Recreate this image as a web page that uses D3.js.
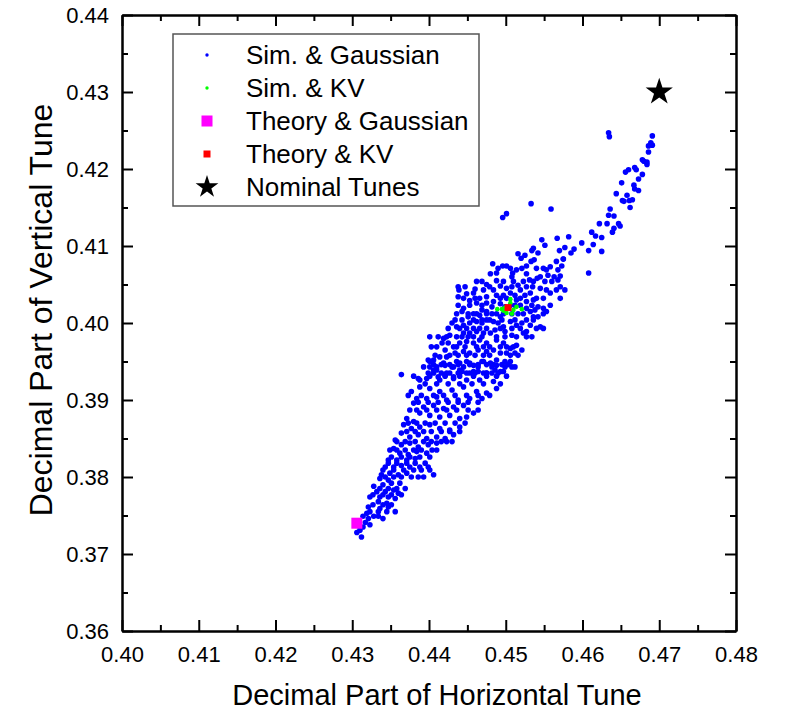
<!DOCTYPE html>
<html>
<head>
<meta charset="utf-8">
<script src="https://cdn.jsdelivr.net/npm/d3@7/dist/d3.min.js"></script>
<style>
  body { margin: 0; background: #fff; }
  text { font-family: "Liberation Sans", Arial, sans-serif; fill: #000; }
</style>
</head>
<body>
<div id="chart"></div>
<script>
//----------------------------------------------------------------
// data read off the picture : [horizontal tune, vertical tune]
//----------------------------------------------------------------
var simGaussian = [
  // tail towards the nominal tunes
  [0.4634,0.4247],[0.4635,0.4242],[0.4691,0.4243],[0.4689,0.4234],[0.4686,0.4230],[0.4691,0.4231],
  [0.4686,0.4222],[0.4678,0.4212],[0.4680,0.4210],[0.4684,0.4209],[0.4684,0.4206],[0.4668,0.4202],
  [0.4670,0.4199],[0.4660,0.4199],[0.4656,0.4196],[0.4678,0.4193],[0.4673,0.4187],[0.4651,0.4182],
  [0.4667,0.4179],[0.4668,0.4174],[0.4673,0.4172],[0.4644,0.4168],[0.4658,0.4166],[0.4652,0.4159],
  [0.4654,0.4158],[0.4661,0.4159],[0.4665,0.4160],[0.4662,0.4150],[0.4636,0.4148],[0.4634,0.4140],
  [0.4641,0.4139],[0.4622,0.4129],[0.4632,0.4129],[0.4647,0.4129],[0.4649,0.4126],[0.4641,0.4123],
  [0.4639,0.4118],[0.4612,0.4118],[0.4617,0.4113],[0.4625,0.4111],[0.4582,0.4112],[0.4599,0.4104],
  [0.4614,0.4102],[0.4577,0.4098],[0.4589,0.4096],[0.4585,0.4091],[0.4608,0.4094],[0.4625,0.4093],
  [0.4575,0.4083],[0.4573,0.4074],[0.4608,0.4065],
  // upper part of the cloud
  [0.4533,0.4155],[0.4559,0.4148],[0.4501,0.4142],[0.4496,0.4137],[0.4567,0.4110],[0.4547,0.4108],
  [0.4551,0.4101],[0.4570,0.4094],[0.4536,0.4097],[0.4534,0.4094],[0.4542,0.4091],[0.4516,0.4090],
  [0.4525,0.4088],[0.4520,0.4084],[0.4483,0.4077],[0.4496,0.4074],[0.4501,0.4074],[0.4537,0.4082],
  [0.4533,0.4080],[0.4527,0.4074],[0.4575,0.4083],[0.4566,0.4080],[0.4558,0.4073],[0.4568,0.4069],
  [0.4553,0.4069],[0.4549,0.4071],[0.4571,0.4061],[0.4563,0.4060],[0.4555,0.4062],[0.4545,0.4060],
  [0.4488,0.4065],[0.4480,0.4064],[0.4514,0.4069],[0.4509,0.4065],[0.4508,0.4060],[0.4527,0.4064],
  [0.4531,0.4056],[0.4541,0.4058],[0.4568,0.4056],[0.4462,0.4054],[0.4475,0.4050],[0.4488,0.4055],
  [0.4493,0.4048],[0.4501,0.4045],[0.4484,0.4043],[0.4471,0.4043],[0.4460,0.4044],[0.4438,0.4047],
  [0.4439,0.4043],[0.4449,0.4038],[0.4438,0.4034],[0.4516,0.4049],[0.4519,0.4043],[0.4535,0.4047],
  [0.4545,0.4045],[0.4553,0.4043],[0.4558,0.4039],[0.4577,0.4043],[0.4566,0.4043],[0.4532,0.4039],
  [0.4525,0.4036],[0.4512,0.4036],[0.4506,0.4039],[0.4497,0.4036],[0.4488,0.4036],[0.4475,0.4034],
  [0.4466,0.4032],[0.4458,0.4039],[0.4453,0.4029],[0.4445,0.4019],[0.4443,0.4015],[0.4462,0.4026],
  [0.4475,0.4026],[0.4484,0.4028],[0.4493,0.4025],[0.4499,0.4021],[0.4514,0.4030],[0.4519,0.4023],
  [0.4527,0.4028],[0.4536,0.4030],[0.4527,0.4019],[0.4532,0.4015],[0.4538,0.4017],[0.4542,0.4021],
  [0.4549,0.4019],[0.4553,0.4015],[0.4536,0.4008],[0.4542,0.4008],[0.4469,0.4017],[0.4475,0.4015],
  [0.4482,0.4021],[0.4466,0.4010],[0.4458,0.4012],[0.4451,0.4008],[0.4488,0.4012],[0.4493,0.4008],
  [0.4490,0.4071],[0.4506,0.4071],[0.4521,0.4071],[0.4540,0.4071],
  [0.4469,0.4054],[0.4497,0.4054],[0.4510,0.4054],[0.4523,0.4054],[0.4536,0.4054],[0.4551,0.4054],[0.4560,0.4054],
  [0.4447,0.4047],[0.4479,0.4047],[0.4508,0.4047],[0.4527,0.4047],[0.4571,0.4047],
  [0.4445,0.4032],[0.4460,0.4032],[0.4493,0.4032],[0.4501,0.4032],[0.4519,0.4032],[0.4540,0.4032],[0.4549,0.4032],[0.4571,0.4032],
  [0.4438,0.4023],[0.4453,0.4023],[0.4469,0.4023],[0.4506,0.4023],[0.4512,0.4023],[0.4534,0.4023],[0.4558,0.4023],
  [0.4436,0.4012],[0.4451,0.4012],[0.4462,0.4012],[0.4475,0.4012],[0.4482,0.4012],[0.4497,0.4012],[0.4508,0.4012],
  [0.4516,0.4012],[0.4523,0.4012],[0.4549,0.4012],
  // middle of the cloud
  [0.4434,0.4004],[0.4430,0.4000],[0.4436,0.3995],[0.4445,0.3997],[0.4453,0.4000],[0.4462,0.4002],
  [0.4469,0.4000],[0.4475,0.4004],[0.4484,0.4002],[0.4490,0.4000],[0.4497,0.3995],[0.4506,0.4002],
  [0.4514,0.3997],[0.4521,0.4000],[0.4532,0.3997],[0.4540,0.3993],[0.4545,0.3995],[0.4527,0.3989],
  [0.4534,0.3982],[0.4523,0.3987],[0.4508,0.3984],[0.4499,0.3989],[0.4486,0.3991],[0.4480,0.3987],
  [0.4471,0.3987],[0.4462,0.3989],[0.4453,0.3987],[0.4445,0.3987],[0.4436,0.3982],[0.4427,0.3984],
  [0.4419,0.3980],[0.4401,0.3982],[0.4425,0.3974],[0.4417,0.3974],[0.4410,0.3969],[0.4421,0.3965],
  [0.4432,0.3969],[0.4440,0.3974],[0.4449,0.3976],[0.4458,0.3974],[0.4466,0.3978],[0.4475,0.3974],
  [0.4488,0.3978],[0.4497,0.3974],[0.4506,0.3967],[0.4514,0.3971],[0.4521,0.3965],[0.4512,0.3961],
  [0.4501,0.3961],[0.4493,0.3961],[0.4484,0.3965],[0.4475,0.3963],[0.4464,0.3965],[0.4453,0.3961],
  [0.4445,0.3963],[0.4434,0.3961],[0.4423,0.3956],[0.4414,0.3956],[0.4406,0.3952],[0.4399,0.3952],
  [0.4401,0.3943],[0.4410,0.3939],[0.4421,0.3945],[0.4432,0.3943],[0.4440,0.3948],[0.4449,0.3950],
  [0.4458,0.3945],[0.4469,0.3950],[0.4480,0.3948],[0.4488,0.3952],[0.4499,0.3950],[0.4508,0.3943],
  [0.4497,0.3937],[0.4486,0.3939],[0.4475,0.3935],[0.4464,0.3937],[0.4453,0.3935],[0.4443,0.3937],
  [0.4432,0.3930],[0.4421,0.3932],[0.4412,0.3930],[0.4364,0.3933],[0.4386,0.3928],[0.4399,0.3935],
  [0.4443,0.4004],[0.4458,0.4004],[0.4469,0.4004],[0.4479,0.4004],[0.4495,0.4004],[0.4512,0.4004],[0.4527,0.4004],[0.4536,0.4004],
  [0.4425,0.3993],[0.4440,0.3993],[0.4449,0.3993],[0.4458,0.3993],[0.4466,0.3993],[0.4475,0.3993],[0.4493,0.3993],
  [0.4508,0.3993],[0.4519,0.3993],[0.4549,0.3993],
  [0.4412,0.3982],[0.4423,0.3982],[0.4443,0.3982],[0.4451,0.3982],[0.4458,0.3982],[0.4469,0.3982],[0.4488,0.3982],
  [0.4499,0.3982],[0.4514,0.3982],[0.4527,0.3982],
  [0.4403,0.3969],[0.4436,0.3969],[0.4447,0.3969],[0.4462,0.3969],[0.4471,0.3969],[0.4479,0.3969],[0.4493,0.3969],
  [0.4501,0.3969],[0.4510,0.3969],
  [0.4408,0.3958],[0.4427,0.3958],[0.4438,0.3958],[0.4449,0.3958],[0.4460,0.3958],[0.4471,0.3958],[0.4479,0.3958],
  [0.4506,0.3958],[0.4516,0.3958],
  [0.4406,0.3946],[0.4416,0.3946],[0.4427,0.3946],[0.4438,0.3946],[0.4453,0.3946],[0.4464,0.3946],[0.4475,0.3946],
  [0.4484,0.3946],[0.4495,0.3946],[0.4503,0.3946],
  [0.4406,0.3935],[0.4416,0.3935],[0.4427,0.3935],[0.4438,0.3935],[0.4449,0.3935],[0.4460,0.3935],[0.4471,0.3935],
  [0.4482,0.3935],[0.4490,0.3935],
  // lower part of the cloud
  [0.4401,0.3950],[0.4419,0.3948],[0.4436,0.3950],[0.4453,0.3948],[0.4471,0.3950],[0.4488,0.3945],
  [0.4506,0.3950],[0.4406,0.3939],[0.4423,0.3935],[0.4440,0.3939],[0.4458,0.3937],[0.4475,0.3935],
  [0.4493,0.3937],[0.4397,0.3928],[0.4414,0.3926],[0.4432,0.3928],[0.4449,0.3926],[0.4466,0.3926],
  [0.4484,0.3924],[0.4388,0.3926],[0.4377,0.3911],[0.4388,0.3917],[0.4401,0.3915],[0.4414,0.3911],
  [0.4430,0.3913],[0.4445,0.3917],[0.4462,0.3911],[0.4475,0.3909],[0.4488,0.3915],[0.4384,0.3902],
  [0.4397,0.3902],[0.4410,0.3904],[0.4423,0.3900],[0.4438,0.3900],[0.4453,0.3902],[0.4469,0.3902],
  [0.4380,0.3896],[0.4393,0.3891],[0.4406,0.3893],[0.4419,0.3889],[0.4432,0.3891],[0.4445,0.3893],
  [0.4458,0.3883],[0.4388,0.3883],[0.4401,0.3880],[0.4414,0.3878],[0.4427,0.3880],[0.4440,0.3876],
  [0.4449,0.3878],[0.4371,0.3876],[0.4380,0.3872],[0.4367,0.3868],[0.4377,0.3863],[0.4388,0.3865],
  [0.4401,0.3868],[0.4414,0.3863],[0.4427,0.3861],[0.4440,0.3865],[0.4364,0.3857],[0.4375,0.3852],
  [0.4386,0.3855],[0.4397,0.3850],[0.4410,0.3852],[0.4421,0.3850],[0.4432,0.3855],[0.4356,0.3848],
  [0.4364,0.3842],[0.4375,0.3844],[0.4386,0.3839],[0.4399,0.3842],[0.4410,0.3844],[0.4423,0.3846],
  [0.4354,0.3837],[0.4362,0.3831],[0.4373,0.3829],[0.4384,0.3833],[0.4397,0.3831],[0.4404,0.3835],
  [0.4347,0.3822],[0.4358,0.3822],[0.4371,0.3822],[0.4382,0.3824],[0.4343,0.3813],[0.4354,0.3813],
  [0.4364,0.3815],[0.4375,0.3813],[0.4388,0.3813],[0.4399,0.3813],[0.4338,0.3803],[0.4349,0.3805],
  [0.4360,0.3803],[0.4371,0.3805],[0.4393,0.3800],[0.4406,0.3803],[0.4336,0.3798],[0.4347,0.3796],
  [0.4328,0.3788],[0.4340,0.3790],[0.4351,0.3792],[0.4362,0.3792],[0.4332,0.3781],[0.4343,0.3781],
  [0.4354,0.3783],[0.4360,0.3779],[0.4323,0.3774],[0.4336,0.3774],[0.4347,0.3774],[0.4356,0.3772],
  [0.4334,0.3768],[0.4345,0.3766],[0.4321,0.3761],[0.4336,0.3759],[0.4347,0.3761],[0.4356,0.3755],
  [0.4319,0.3753],[0.4328,0.3749],[0.4314,0.3749],[0.4334,0.3749],[0.4317,0.3741],[0.4314,0.3735],
  [0.4310,0.3731],[0.4306,0.3728],[0.4312,0.3722],
  [0.4393,0.3943],[0.4410,0.3943],[0.4430,0.3943],[0.4445,0.3943],[0.4464,0.3943],[0.4482,0.3943],[0.4499,0.3943],[0.4512,0.3943],
  [0.4380,0.3931],[0.4401,0.3931],[0.4421,0.3931],[0.4440,0.3931],[0.4458,0.3931],[0.4475,0.3931],[0.4488,0.3931],[0.4501,0.3931],
  [0.4395,0.3921],[0.4410,0.3921],[0.4425,0.3921],[0.4440,0.3921],[0.4456,0.3921],[0.4471,0.3921],[0.4493,0.3921],
  [0.4373,0.3906],[0.4390,0.3906],[0.4406,0.3906],[0.4419,0.3906],[0.4434,0.3906],[0.4449,0.3906],[0.4464,0.3906],[0.4479,0.3906],
  [0.4386,0.3897],[0.4399,0.3897],[0.4412,0.3897],[0.4425,0.3897],[0.4438,0.3897],[0.4451,0.3897],[0.4464,0.3897],
  [0.4375,0.3887],[0.4384,0.3887],[0.4397,0.3887],[0.4410,0.3887],[0.4423,0.3887],[0.4436,0.3887],[0.4451,0.3887],[0.4464,0.3887],
  [0.4373,0.3870],[0.4384,0.3870],[0.4395,0.3870],[0.4408,0.3870],[0.4421,0.3870],[0.4434,0.3870],[0.4447,0.3870],
  [0.4371,0.3859],[0.4382,0.3859],[0.4393,0.3859],[0.4403,0.3859],[0.4416,0.3859],[0.4427,0.3859],[0.4440,0.3859],
  [0.4358,0.3846],[0.4369,0.3846],[0.4382,0.3846],[0.4393,0.3846],[0.4403,0.3846],[0.4416,0.3846],[0.4430,0.3846],
  [0.4349,0.3835],[0.4358,0.3835],[0.4369,0.3835],[0.4380,0.3835],[0.4390,0.3835],[0.4410,0.3835],
  [0.4351,0.3826],[0.4364,0.3826],[0.4375,0.3826],[0.4388,0.3826],[0.4401,0.3826],
  [0.4347,0.3818],[0.4358,0.3818],[0.4371,0.3818],[0.4382,0.3818],[0.4395,0.3818],
  [0.4340,0.3809],[0.4354,0.3809],[0.4367,0.3809],[0.4380,0.3809],[0.4390,0.3809],[0.4401,0.3809],
  [0.4343,0.3800],[0.4354,0.3800],[0.4364,0.3800],[0.4377,0.3800],[0.4386,0.3800],
  [0.4336,0.3785],[0.4347,0.3785],[0.4358,0.3785],[0.4369,0.3785],
  [0.4327,0.3777],[0.4340,0.3777],[0.4351,0.3777],[0.4364,0.3777],
  [0.4327,0.3764],[0.4340,0.3764],[0.4351,0.3764],
  [0.4323,0.3755],[0.4334,0.3755],[0.4345,0.3755],
  [0.4321,0.3746],[0.4340,0.3746],[0.4323,0.3738]
];

var simKV = [
  [0.4489,0.4018],[0.4521,0.4018],[0.4506,0.4031],[0.4506,0.4026],[0.4497,0.4016],[0.4510,0.4017],
  [0.4514,0.4021],[0.4501,0.4013],[0.4508,0.4012],[0.4499,0.4020],[0.4495,0.4018]
];

var theoryGaussian = [[0.4306, 0.3740]];
var theoryKV = [[0.4503, 0.4020]];
var nominalTunes = [[0.4700, 0.4300]];

var xTicks = [0.40, 0.41, 0.42, 0.43, 0.44, 0.45, 0.46, 0.47, 0.48];
var yTicks = [0.36, 0.37, 0.38, 0.39, 0.40, 0.41, 0.42, 0.43, 0.44];
var xMinor = [0.405, 0.415, 0.425, 0.435, 0.445, 0.455, 0.465, 0.475];
var yMinor = [0.365, 0.375, 0.385, 0.395, 0.405, 0.415, 0.425, 0.435];

var legendLabels = ["Sim. & Gaussian", "Sim. & KV", "Theory & Gaussian", "Theory & KV", "Nominal Tunes"];

// dimensions du graphique
var margin = {top: 15, right: 49, bottom: 82, left: 122},
    width = 785 - margin.left - margin.right,
    height = 713 - margin.top - margin.bottom;

var svg = d3.select("#chart").append("svg")
    .attr("width", 785)
    .attr("height", 713);

svg.append("rect").attr("width", 785).attr("height", 713).attr("fill", "#fff");

var g = svg.append("g")
    .attr("transform", "translate(" + margin.left + "," + margin.top + ")");

// échelles
var x = d3.scaleLinear().domain([0.40, 0.48]).range([0, width]);
var y = d3.scaleLinear().domain([0.36, 0.44]).range([height, 0]);

//----------------------------------------------------------------
// axes : ticks vers l'intérieur sur les 4 côtés
//----------------------------------------------------------------
function drawAxis(axis, transform, labels) {
    var a = g.append("g").attr("transform", transform).call(axis);
    a.select(".domain").attr("stroke", "#000").attr("stroke-width", 2);
    a.selectAll(".tick line").attr("stroke", "#000").attr("stroke-width", 2);
    a.selectAll("text").style("font-size", "22px");
    if (!labels) a.selectAll("text").remove();
    return a;
}

var fmt = d3.format(".2f");

drawAxis(d3.axisBottom(x).tickValues(xTicks).tickFormat(fmt).tickSize(-11).tickSizeOuter(0).tickPadding(15),
    "translate(0," + height + ")", true);
drawAxis(d3.axisBottom(x).tickValues(xMinor).tickSize(-6).tickSizeOuter(0),
    "translate(0," + height + ")", false);
drawAxis(d3.axisLeft(y).tickValues(yTicks).tickFormat(fmt).tickSize(-11).tickSizeOuter(0).tickPadding(13),
    "translate(0,0)", true);
drawAxis(d3.axisLeft(y).tickValues(yMinor).tickSize(-6).tickSizeOuter(0),
    "translate(0,0)", false);
drawAxis(d3.axisTop(x).tickValues(xTicks).tickSize(-11).tickSizeOuter(0), "translate(0,0)", false);
drawAxis(d3.axisTop(x).tickValues(xMinor).tickSize(-6).tickSizeOuter(0), "translate(0,0)", false);
drawAxis(d3.axisRight(y).tickValues(yTicks).tickSize(-11).tickSizeOuter(0), "translate(" + width + ",0)", false);
drawAxis(d3.axisRight(y).tickValues(yMinor).tickSize(-6).tickSizeOuter(0), "translate(" + width + ",0)", false);

// titres des axes
svg.append("text")
    .attr("x", 437)
    .attr("y", 705)
    .attr("text-anchor", "middle")
    .style("font-size", "29px")
    .text("Decimal Part of Horizontal Tune");

svg.append("text")
    .attr("transform", "translate(52,310) rotate(-90)")
    .attr("text-anchor", "middle")
    .style("font-size", "32px")
    .text("Decimal Part of Vertical Tune");

//----------------------------------------------------------------
// les points
//----------------------------------------------------------------
g.selectAll(".simG")
    .data(simGaussian)
    .enter().append("circle")
    .attr("class", "simG")
    .attr("r", 2.8)
    .attr("cx", function(d) { return x(d[0]); })
    .attr("cy", function(d) { return y(d[1]); })
    .style("fill", "#0000ff");

g.selectAll(".simKV")
    .data(simKV)
    .enter().append("circle")
    .attr("class", "simKV")
    .attr("r", 2.3)
    .attr("cx", function(d) { return x(d[0]); })
    .attr("cy", function(d) { return y(d[1]); })
    .style("fill", "#00ff00");

g.selectAll(".thG")
    .data(theoryGaussian)
    .enter().append("rect")
    .attr("x", function(d) { return x(d[0]) - 5.5; })
    .attr("y", function(d) { return y(d[1]) - 5.5; })
    .attr("width", 11)
    .attr("height", 11)
    .style("fill", "#ff00ff");

g.selectAll(".thKV")
    .data(theoryKV)
    .enter().append("rect")
    .attr("x", function(d) { return x(d[0]) - 3.5; })
    .attr("y", function(d) { return y(d[1]) - 3.5; })
    .attr("width", 7)
    .attr("height", 7)
    .style("fill", "#ff0000");

var star = d3.symbol().type(d3.symbolStar);

g.selectAll(".nominal")
    .data(nominalTunes)
    .enter().append("path")
    .attr("d", star.size(230)())
    .attr("transform", function(d) { return "translate(" + x(d[0]) + "," + y(d[1]) + ")"; })
    .style("fill", "#000");

//----------------------------------------------------------------
// légende
//----------------------------------------------------------------
var leg = svg.append("g").attr("transform", "translate(173,34)");

leg.append("rect")
    .attr("width", 306)
    .attr("height", 172)
    .attr("fill", "#fff")
    .attr("stroke", "#555")
    .attr("stroke-width", 1.5);

var rowY = function(i) { return 21 + i * 33; };

leg.selectAll(".legtxt")
    .data(legendLabels)
    .enter().append("text")
    .attr("x", 73)
    .attr("y", function(d, i) { return rowY(i); })
    .attr("dy", "0.35em")
    .style("font-size", "26px")
    .text(function(d) { return d; });

leg.append("circle").attr("cx", 34).attr("cy", rowY(0)).attr("r", 1.7).style("fill", "#0000ff");
leg.append("circle").attr("cx", 34).attr("cy", rowY(1)).attr("r", 1.7).style("fill", "#00ff00");
leg.append("rect").attr("x", 34 - 5.5).attr("y", rowY(2) - 5.5).attr("width", 11).attr("height", 11).style("fill", "#ff00ff");
leg.append("rect").attr("x", 34 - 3.5).attr("y", rowY(3) - 3.5).attr("width", 7).attr("height", 7).style("fill", "#ff0000");
leg.append("path")
    .attr("d", d3.symbol().type(d3.symbolStar).size(160)())
    .attr("transform", "translate(34," + rowY(4) + ")")
    .style("fill", "#000");
</script>
</body>
</html>
